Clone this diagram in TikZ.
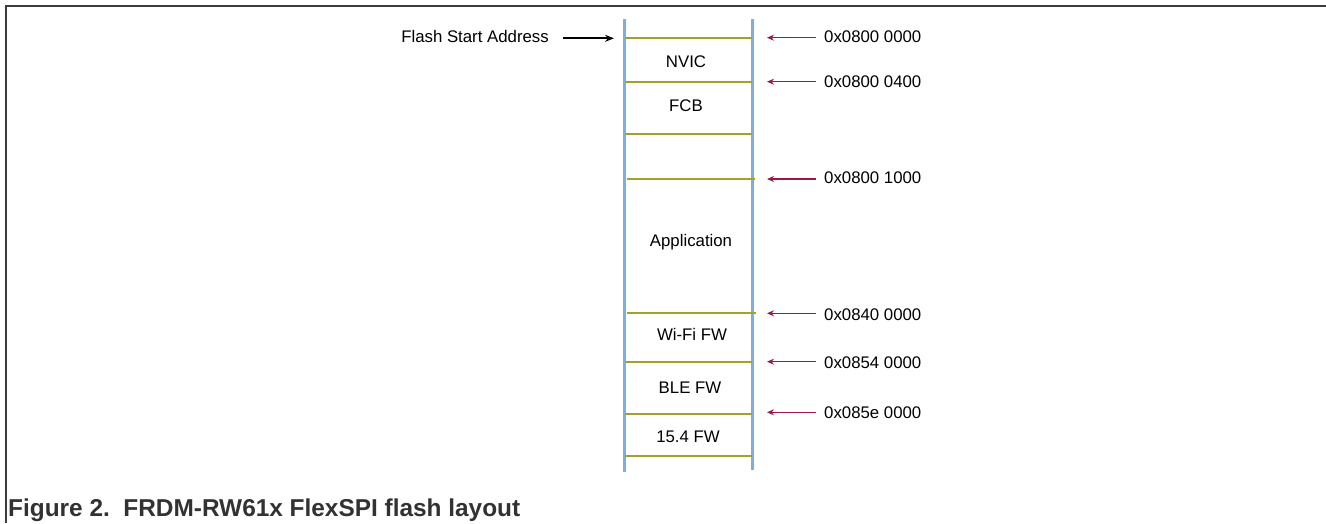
\documentclass[tikz,border=0pt]{standalone}
\usepackage{fontspec}
\setmainfont{Liberation Sans}
\usetikzlibrary{arrows.meta}
\definecolor{memblue}{RGB}{125,175,220}
\definecolor{memolive}{RGB}{165,160,40}
\definecolor{addrred}{RGB}{160,20,70}
\definecolor{framegray}{RGB}{60,60,60}
\definecolor{captiongray}{RGB}{50,50,50}
\tikzset{
  rail/.style={draw=memblue,line width=3pt},
  divider/.style={draw=memolive,line width=2pt},
  addrarrow/.style={draw=addrred,line width=1.4pt,-{Stealth[length=7pt,width=6pt]}},
  startarrow/.style={draw=black,line width=2pt,-{Stealth[length=9pt,width=7pt]}},
  sectxt/.style={anchor=base,inner sep=0pt,font=\fontsize{16.8}{20}\selectfont},
  addrtxt/.style={anchor=base west,inner sep=0pt,font=\fontsize{16.8}{20}\selectfont},
  frameline/.style={draw=framegray,line width=2pt}
}
\begin{document}
\begin{tikzpicture}[x=1pt,y=-1pt]
\useasboundingbox (0,0) rectangle (1326,523);
% frame
\draw[frameline] (5.5,523) -- (5.5,6) -- (1326,6);
% rails
\draw[rail] (624.5,19) -- (624.5,472);
\draw[rail] (752.5,19) -- (752.5,470);
% dividers
\draw[divider] (625,38) -- (752,38);
\draw[divider] (625,82) -- (752,82);
\draw[divider] (625,134) -- (752,134);
\draw[divider] (627,179) -- (755,179);
\draw[divider] (627,313) -- (756,313);
\draw[divider] (625,362) -- (752,362);
\draw[divider] (625,414) -- (752,414);
\draw[divider] (625,456) -- (752,456);
% section labels
\node[sectxt] (nvic) at (686,67.7) {NVIC};
\node[sectxt] (fcb) at (686,111) {FCB};
\node[sectxt] (app) at (691,246.7) {Application};
\node[sectxt] (wifi) at (692,340.7) {Wi-Fi FW};
\node[sectxt] (ble) at (690,393.3) {BLE FW};
\node[sectxt] (fw154) at (688,442.7) {15.4 FW};
% addresses
\node[addrtxt] (a1) at (824,42.7) {0x0800 0000};
\node[addrtxt] (a2) at (824,87.3) {0x0800 0400};
\node[addrtxt] (a3) at (824,183.3) {0x0800 1000};
\node[addrtxt] (a4) at (824,320) {0x0840 0000};
\node[addrtxt] (a5) at (824,368.3) {0x0854 0000};
\node[addrtxt] (a6) at (824,418.3) {0x085e 0000};
\coordinate (t1) at (816,37.7);   \coordinate (h1) at (767,37.7);
\coordinate (t2) at (816,81.7);   \coordinate (h2) at (767,81.7);
\coordinate (t3) at (816,179);    \coordinate (h3) at (767,179);
\coordinate (t4) at (816,313.3);  \coordinate (h4) at (767,313.3);
\coordinate (t5) at (816,361.7);  \coordinate (h5) at (767,361.7);
\coordinate (t6) at (816,412.3);  \coordinate (h6) at (767,412.3);
\foreach \i in {1,...,6} {\draw[addrarrow] (t\i) -- (h\i);}
% flash start
\node[anchor=base east,inner sep=0pt,font=\fontsize{16.8}{20}\selectfont] (fsa) at (549,42.3) {Flash Start Address};
\coordinate (fst) at (563,38.3);
\coordinate (fsh) at (614,38.3);
\draw[startarrow] (fst) -- (fsh);
% caption
\node[anchor=base west,inner sep=0pt,text=captiongray,font=\fontsize{24.4}{28}\selectfont\bfseries] (cap) at (8,516) {Figure 2.\ \ FRDM-RW61x FlexSPI flash layout};
\end{tikzpicture}
\end{document}
